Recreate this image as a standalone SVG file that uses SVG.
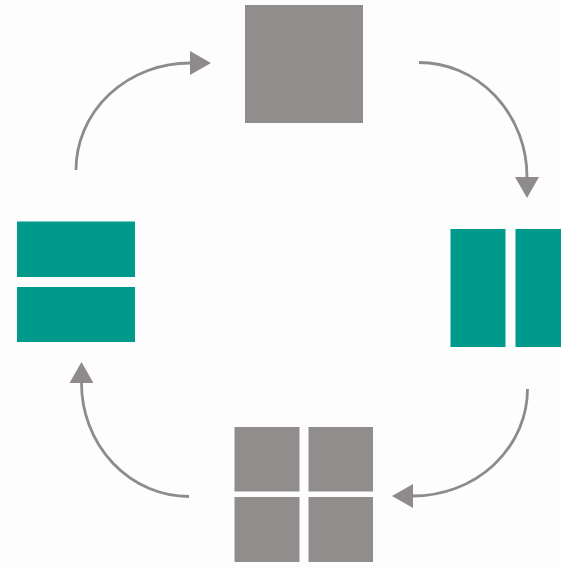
<svg xmlns="http://www.w3.org/2000/svg" width="561" height="568" viewBox="0 0 561 568">
<style>
.g{fill:#928d8d}
.t{fill:#009a8d}
.c{fill:none;stroke:#8f8b8b;stroke-width:2.8}
</style>
<defs>
<marker id="ah" viewBox="0 0 21 24" refX="0" refY="12" markerWidth="21" markerHeight="24" markerUnits="userSpaceOnUse" orient="auto">
<path d="M0,0 L21,12 L0,24 z" fill="#8f8b8b"/>
</marker>
</defs>
<rect width="561" height="568" fill="#fdfdfd"/>
<g id="top-square"><rect class="g" x="245" y="5" width="118" height="118"/></g>
<g id="right-bars"><rect class="t" x="450.5" y="229" width="55" height="118"/><rect class="t" x="515.5" y="229" width="46" height="118"/></g>
<g id="bottom-grid"><rect class="g" x="234.5" y="427" width="65" height="64.5"/><rect class="g" x="308.5" y="427" width="64.5" height="64.5"/><rect class="g" x="234.5" y="497" width="65" height="65"/><rect class="g" x="308.5" y="497" width="64.5" height="65"/></g>
<g id="left-bars"><rect class="t" x="17" y="221.5" width="118" height="55.5"/><rect class="t" x="17" y="287" width="118" height="55"/></g>
<g id="connectors">
<path class="c" d="M76,170 A114,107 0 0 1 190,63" marker-end="url(#ah)"/>
<path class="c" d="M419,62.5 A108,114.5 0 0 1 527,177" marker-end="url(#ah)"/>
<path class="c" d="M527.5,389 A114.5,107 0 0 1 413,496" marker-end="url(#ah)"/>
<path class="c" d="M189,496.5 A107.5,113.5 0 0 1 81.5,383" marker-end="url(#ah)"/>
</g>
</svg>
